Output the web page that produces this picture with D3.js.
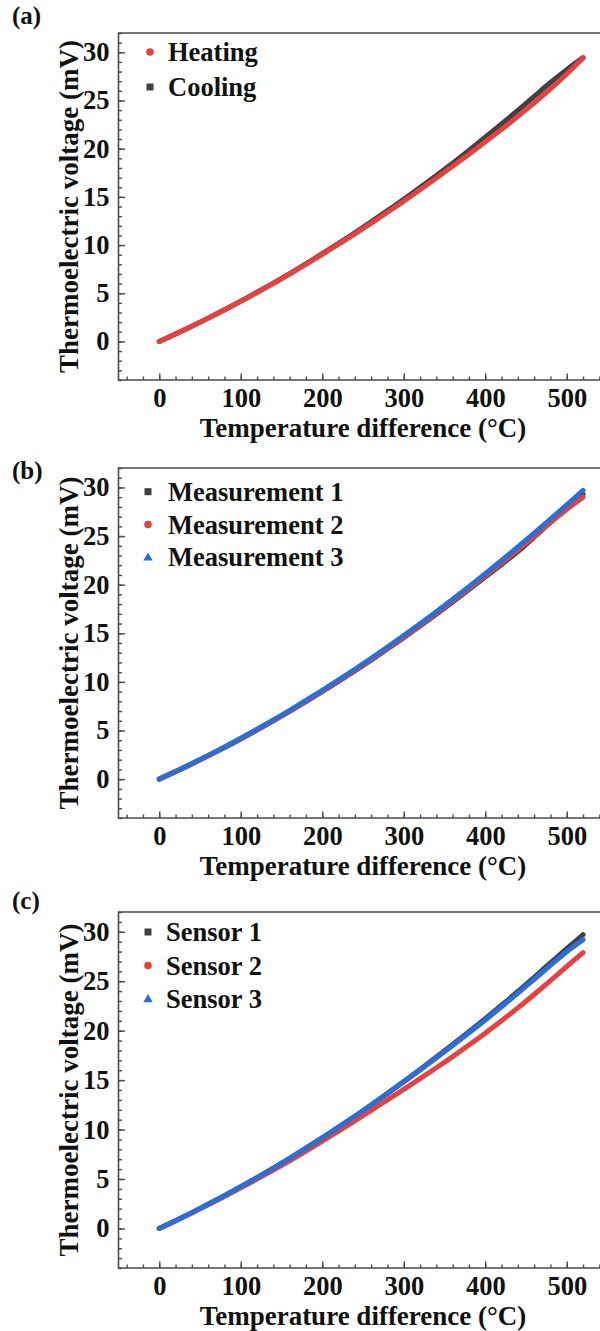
<!DOCTYPE html>
<html>
<head>
<meta charset="utf-8">
<script src="https://cdn.jsdelivr.net/npm/d3@7"></script>
<style>
  html, body { margin: 0; padding: 0; background: #fff; }
  svg { display: block; }
  text { font-family: "Liberation Serif", "Times New Roman", serif; font-weight: bold; fill: #111; }
</style>
</head>
<body>
<svg id="fig" width="600" height="1331"></svg>
<script>
// Temperature difference grid (°C) shared by every series
const temps = [0, 20, 40, 60, 80, 100, 120, 140, 160, 180, 200, 220, 240, 260,
               280, 300, 320, 340, 360, 380, 400, 420, 440, 460, 480, 500, 520];

// (a) heating / cooling cycle, thermoelectric voltage in mV
const heating = [0, 0.78, 1.58, 2.41, 3.27, 4.16, 5.08, 6.02, 7.0, 8.0, 9.03, 10.09, 11.16, 12.26,
                 13.4, 14.55, 15.74, 16.95, 18.18, 19.42, 20.7, 22.0, 23.35, 24.75, 26.2, 27.75, 29.4];
const cooling = [0, 0.78, 1.58, 2.42, 3.29, 4.18, 5.1, 6.05, 7.04, 8.05, 9.1, 10.18, 11.28, 12.42,
                 13.58, 14.76, 15.98, 17.22, 18.5, 19.82, 21.18, 22.56, 23.98, 25.42, 26.86, 28.2, 29.45];

// (b) repeated measurements
const meas1 = [0, 0.77, 1.56, 2.39, 3.24, 4.13, 5.05, 5.99, 6.96, 7.96, 8.99, 10.05, 11.13, 12.24,
               13.38, 14.55, 15.75, 16.97, 18.22, 19.5, 20.78, 22.08, 23.4, 24.88, 26.42, 27.92, 29.3];
const meas2 = [0, 0.78, 1.58, 2.41, 3.27, 4.16, 5.08, 6.02, 7.0, 8.0, 9.03, 10.09, 11.18, 12.3,
               13.45, 14.62, 15.83, 17.06, 18.32, 19.6, 20.9, 22.22, 23.58, 24.98, 26.38, 27.75, 29.0];
const meas3 = [0, 0.79, 1.6, 2.44, 3.31, 4.21, 5.14, 6.09, 7.08, 8.09, 9.13, 10.2, 11.3, 12.43,
               13.59, 14.77, 15.98, 17.22, 18.49, 19.79, 21.12, 22.48, 23.88, 25.3, 26.75, 28.2, 29.7];

// (c) three different sensors
const sensor1 = [0, 0.79, 1.6, 2.44, 3.31, 4.21, 5.14, 6.1, 7.09, 8.11, 9.16, 10.24, 11.35, 12.49,
                 13.66, 14.86, 16.08, 17.33, 18.6, 19.9, 21.22, 22.57, 23.96, 25.4, 26.85, 28.3, 29.7];
const sensor2 = [0, 0.78, 1.57, 2.39, 3.24, 4.11, 5.0, 5.91, 6.85, 7.82, 8.82, 9.84, 10.88, 11.94,
                 13.0, 14.07, 15.15, 16.25, 17.38, 18.55, 19.75, 21.0, 22.3, 23.66, 25.06, 26.5, 27.9];
const sensor3 = [0, 0.79, 1.6, 2.44, 3.31, 4.21, 5.14, 6.1, 7.09, 8.11, 9.16, 10.24, 11.35, 12.48,
                 13.64, 14.82, 16.02, 17.25, 18.5, 19.78, 21.08, 22.42, 23.8, 25.2, 26.6, 27.98, 29.2];

// Axis ticks
const xMajor = [0, 100, 200, 300, 400, 500];
const xMinor = d3.range(-40, 551, 20);
const yMajor = [0, 5, 10, 15, 20, 25, 30];
const yMinor = d3.range(-4, 33, 1);

const xTitle = "Temperature difference (°C)";
const yTitle = "Thermoelectric voltage (mV)";

const colors = { dark: "#414141", red: "#e8403f", blue: "#2a6fd8" };

const panels = [
  { tag: "(a)", top: 33, bottom: 380, tagY: 24,
    series: [
      { name: "Cooling", values: cooling, color: colors.dark, marker: "square" },
      { name: "Heating", values: heating, color: colors.red, marker: "circle" }
    ],
    legend: [
      { name: "Heating", color: colors.red, marker: "circle" },
      { name: "Cooling", color: colors.dark, marker: "square" }
    ],
    legX: 150, legTextX: 168, legY0: 19, legStep: 35 },
  { tag: "(b)", top: 468, bottom: 818, tagY: 479,
    series: [
      { name: "Measurement 1", values: meas1, color: colors.dark, marker: "square" },
      { name: "Measurement 2", values: meas2, color: colors.red, marker: "circle" },
      { name: "Measurement 3", values: meas3, color: colors.blue, marker: "triangle" }
    ],
    legX: 148, legTextX: 168, legY0: 23.7, legStep: 32.8 },
  { tag: "(c)", top: 912, bottom: 1268, tagY: 909,
    series: [
      { name: "Sensor 1", values: sensor1, color: colors.dark, marker: "square" },
      { name: "Sensor 2", values: sensor2, color: colors.red, marker: "circle" },
      { name: "Sensor 3", values: sensor3, color: colors.blue, marker: "triangle" }
    ],
    legX: 148, legTextX: 166, legY0: 20, legStep: 33.5 }
];

const svg = d3.select("#fig");
const left = 118.5, right = 607.5;
const tickFont = 26.5, legendFont = 26.5, titleFont = 27;
const axisColor = "#4a4a4a";

panels.forEach(p => {
  const g = svg.append("g");
  const x = d3.scaleLinear().domain([-50, 550]).range([left, right]);
  const y = d3.scaleLinear().domain([-4, 32]).range([p.bottom, p.top]);

  // minor ticks
  g.append("g").attr("transform", `translate(0,${p.bottom})`)
    .call(d3.axisBottom(x).tickValues(xMinor).tickSize(-3.5).tickFormat(""))
    .call(a => a.select(".domain").remove());
  g.append("g").attr("transform", `translate(${left},0)`)
    .call(d3.axisLeft(y).tickValues(yMinor).tickSize(-3.5).tickFormat(""))
    .call(a => a.select(".domain").remove());

  // major ticks with labels
  const xa = g.append("g").attr("transform", `translate(0,${p.bottom})`)
    .call(d3.axisBottom(x).tickValues(xMajor).tickSize(-6.5).tickPadding(8).tickFormat(d3.format("d")));
  xa.select(".domain").remove();
  const ya = g.append("g").attr("transform", `translate(${left},0)`)
    .call(d3.axisLeft(y).tickValues(yMajor).tickSize(-6.5).tickPadding(9).tickFormat(d3.format("d")));
  ya.select(".domain").remove();

  g.selectAll(".tick line").attr("stroke", axisColor).attr("stroke-width", 1.4);
  g.selectAll(".tick text")
    .attr("font-family", "Liberation Serif, Times New Roman, serif")
    .attr("font-weight", "bold").attr("font-size", tickFont).attr("fill", "#111");

  // frame: top, left, bottom
  g.append("path")
    .attr("d", `M${right},${p.top}H${left}V${p.bottom}H${right}`)
    .attr("fill", "none").attr("stroke", axisColor).attr("stroke-width", 1.6);

  // data curves
  const line = d3.line()
    .x((d, i) => x(temps[i]))
    .y(d => y(d))
    .curve(d3.curveMonotoneX);
  p.series.forEach(s => {
    g.append("path")
      .datum(s.values)
      .attr("d", line)
      .attr("fill", "none")
      .attr("stroke", s.color)
      .attr("stroke-width", 5)
      .attr("stroke-linecap", "round")
      .attr("stroke-linejoin", "round");
  });

  // legend
  const legendItems = p.legend || p.series;
  legendItems.forEach((s, i) => {
    const cy = p.top + p.legY0 + i * p.legStep;
    if (s.marker === "circle") {
      g.append("circle").attr("cx", p.legX).attr("cy", cy).attr("r", 3.8).attr("fill", s.color);
    } else if (s.marker === "square") {
      g.append("rect").attr("x", p.legX - 3.5).attr("y", cy - 3.5).attr("width", 7).attr("height", 7).attr("fill", s.color);
    } else {
      g.append("path").attr("d", d3.symbol(d3.symbolTriangle, 38)()).attr("transform", `translate(${p.legX},${cy + 0.5})`).attr("fill", s.color);
    }
    g.append("text").attr("x", p.legTextX).attr("y", cy + 9)
      .attr("font-size", legendFont).text(s.name);
  });

  // axis titles
  g.append("text")
    .attr("x", (left + right) / 2).attr("y", p.bottom + 57)
    .attr("text-anchor", "middle").attr("font-size", titleFont).text(xTitle);
  g.append("text")
    .attr("transform", `translate(78,${(p.top + p.bottom) / 2}) rotate(-90)`)
    .attr("text-anchor", "middle").attr("font-size", titleFont).text(yTitle);

  // panel tag
  g.append("text").attr("x", 12).attr("y", p.tagY).attr("font-size", 25).text(p.tag);
});
</script>
</body>
</html>
